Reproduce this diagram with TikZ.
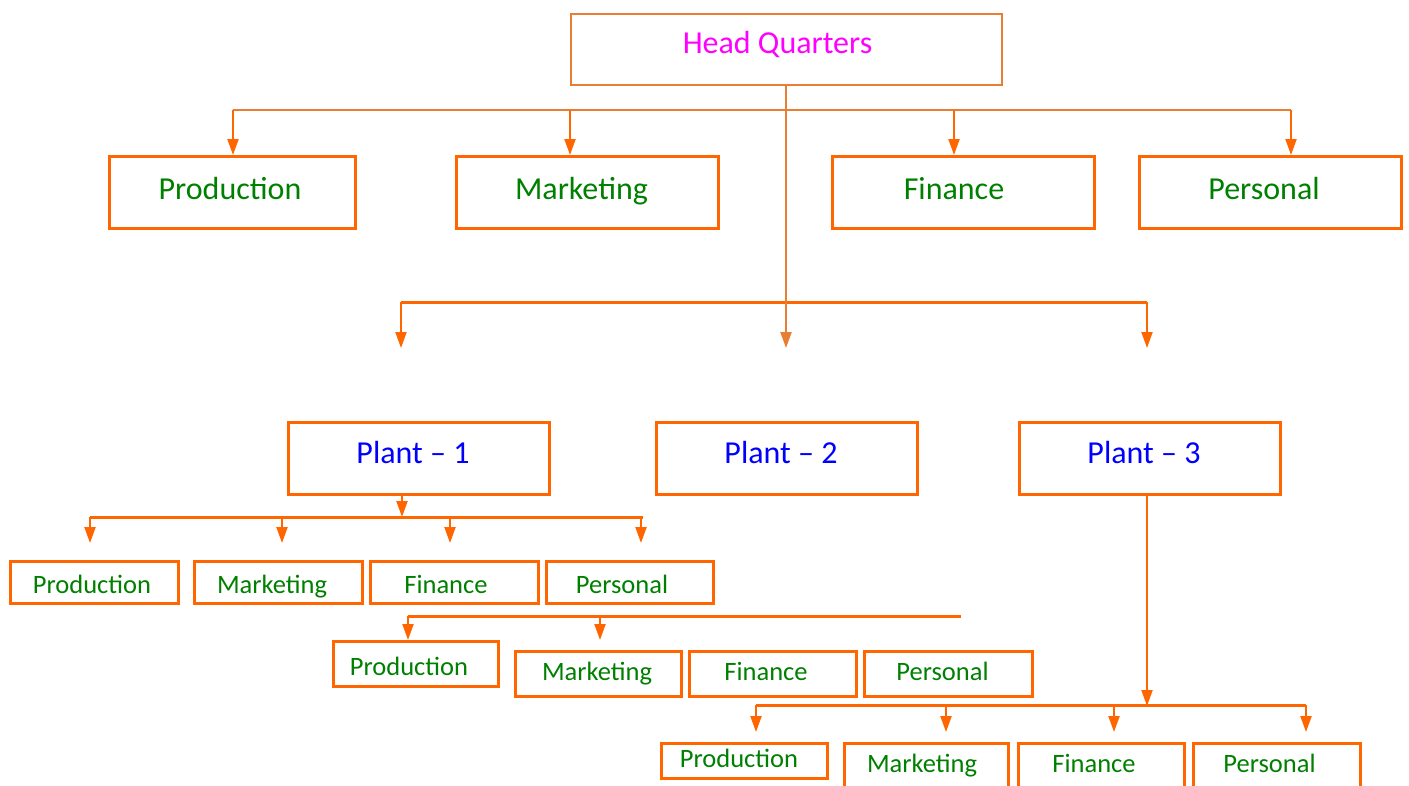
\documentclass[tikz,border=0pt]{standalone}
\usepackage{fontspec}
\setmainfont{Carlito}
\usetikzlibrary{arrows.meta}
\definecolor{boxorange}{RGB}{255,102,0}
\definecolor{hqorange}{RGB}{233,125,50}
\definecolor{deptgreen}{RGB}{0,128,0}
\definecolor{plantblue}{RGB}{0,0,255}
\definecolor{hqmagenta}{RGB}{255,0,255}
\tikzset{
  textpull/.initial=12pt,
  unitbox/.style={draw=boxorange, line width=3pt, inner sep=0pt,
    text depth=0pt,
    execute at begin node={\hspace*{-\pgfkeysvalueof{/tikz/textpull}}}},
  hqbox/.style={unitbox, draw=hqorange, line width=2pt, text=hqmagenta,
    text height=7pt, font=\fontsize{32}{36}\selectfont,
    minimum width=431pt, minimum height=71pt},
  bigdept/.style={unitbox, text=deptgreen, text height=13pt,
    font=\fontsize{32}{36}\selectfont, minimum width=262pt, minimum height=72pt},
  plantbox/.style={unitbox, text=plantblue, text height=9pt,
    font=\fontsize{32}{36}\selectfont, minimum width=261pt, minimum height=72pt},
  smalldept/.style={unitbox, text=deptgreen, text height=12pt,
    font=\fontsize{26.5}{30}\selectfont, minimum width=167pt, minimum height=42pt},
  feeder/.style={draw=hqorange, line width=2pt},
  bus/.style={draw=boxorange, line width=3pt},
  drop/.style={draw=boxorange, line width=2pt, -{Triangle[width=11pt,length=16pt]}}
}
\begin{document}
\begin{tikzpicture}[x=1pt,y=-1pt]
  \useasboundingbox (0,0) rectangle (1409,785);
  \fill[white] (0,0) rectangle (1409,785);
  \clip (0,0) rectangle (1409,785);

  \node[hqbox, textpull=18pt] (hq) at (786.5,49.5) {Head Quarters};

  \node[bigdept, minimum width=246pt, textpull=5pt] (hq-prod) at (232.5,192.5) {Production};
  \node[bigdept] (hq-mkt) at (587.5,192.5) {Marketing};
  \node[bigdept, textpull=19pt] (hq-fin) at (963.5,192.5) {Finance};
  \node[bigdept, textpull=13pt] (hq-pers) at (1270.5,192.5) {Personal};

  \node[plantbox] (plant1) at (419,458.5) {Plant -- 1};
  \node[plantbox] (plant2) at (787,458.5) {Plant -- 2};
  \node[plantbox] (plant3) at (1150,458.5) {Plant -- 3};

  \node[smalldept, minimum width=168pt, text height=21pt, textpull=5pt] (p1-prod) at (94.5,582.5) {Production};
  \node[smalldept, minimum width=168pt, text height=21pt, textpull=13pt] (p1-mkt) at (278.5,582.5) {Marketing};
  \node[smalldept, minimum width=168pt, text height=21pt, textpull=17pt] (p1-fin) at (454.5,582.5) {Finance};
  \node[smalldept, text height=21pt, textpull=16pt] (p1-pers) at (630,582.5) {Personal};

  \node[smalldept, minimum width=165pt, minimum height=45pt, text height=22pt, textpull=14pt] (p2-prod) at (416,664) {Production};
  \node[smalldept, minimum width=166pt, minimum height=45pt, textpull=3pt] (p2-mkt) at (598.5,674) {Marketing};
  \node[smalldept, minimum height=45pt, textpull=14pt] (p2-fin) at (773,674) {Finance};
  \node[smalldept, minimum width=168pt, minimum height=45pt] (p2-pers) at (948.5,674) {Personal};

  \node[smalldept, minimum width=166pt, minimum height=35pt, textpull=11pt] (p3-prod) at (744.5,761) {Production};
  \node[smalldept, minimum width=164pt, minimum height=45pt, textpull=9pt] (p3-mkt) at (926.5,766) {Marketing};
  \node[smalldept, minimum width=166pt, minimum height=45pt, textpull=15pt] (p3-fin) at (1101.5,766) {Finance};
  \node[smalldept, minimum height=45pt, textpull=15pt] (p3-pers) at (1277,766) {Personal};

  \coordinate (hqbus-l) at (233,110);
  \coordinate (hqbus-r) at (1291,110);
  \coordinate (hqbus-m) at (570,110);
  \coordinate (hqbus-f) at (954,110);
  \draw[feeder] (hqbus-l) -- (hqbus-r);
  \draw[drop] (hqbus-l) -- (hqbus-l |- hq-prod.north);
  \draw[drop] (hqbus-m) -- (hqbus-m |- hq-mkt.north);
  \draw[drop] (hqbus-f) -- (hqbus-f |- hq-fin.north);
  \draw[drop] (hqbus-r) -- (hqbus-r |- hq-pers.north);

  \coordinate (plantbus-l) at (401,302);
  \coordinate (plantbus-r) at (1147,302);
  \coordinate (plant-tip) at (786,348);
  \draw[bus] (plantbus-l) -- (plantbus-r);
  \draw[drop, draw=hqorange] (hq.south -| plant-tip) -- (plant-tip);
  \draw[drop] (plantbus-l) -- ++(0,46);
  \draw[drop] (plantbus-r) -- ++(0,46);

  \coordinate (p1bus) at (402,517);
  \draw[drop] (plant1.south -| p1bus) -- (p1bus);
  \draw[bus] (90,517) -- (643,517);
  \draw[drop] (90,517) -- ++(0,26);
  \draw[drop] (282,517) -- ++(0,26);
  \draw[drop] (450,517) -- ++(0,26);
  \draw[drop] (641,517) -- ++(0,26);

  \draw[bus] (408,616) -- (961,616);
  \draw[drop] (408,616) -- (408,616 |- p2-prod.north);
  \draw[drop] (600,616) -- ++(0,24);

  \coordinate (p3bus) at (1147,706);
  \draw[drop] (plant3.south -| p3bus) -- (p3bus);
  \draw[bus] (756,705) -- (1306,705);
  \draw[drop] (756,705) -- ++(0,27);
  \draw[drop] (946,705) -- ++(0,27);
  \draw[drop] (1114,705) -- ++(0,27);
  \draw[drop] (1306,705) -- ++(0,27);
\end{tikzpicture}
\end{document}
